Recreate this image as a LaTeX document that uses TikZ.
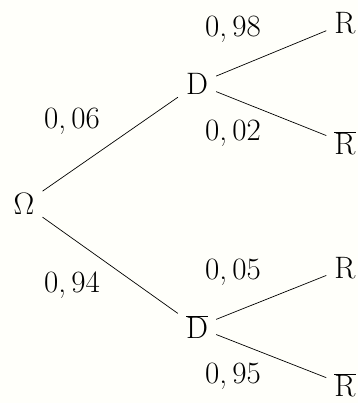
\documentclass[tikz,border=0pt]{standalone}
\begin{document}
\begin{tikzpicture}[x=1pt,y=-1pt,
  ev/.style={inner xsep=8pt,inner ysep=3pt,font=\fontsize{31}{34}\selectfont},
  pr/.style={font=\fontsize{31}{34}\selectfont},
  br/.style={line width=0.7pt}]
\useasboundingbox (0,0) rectangle (358,403);
\fill[white!97!yellow!60!white] (0,0) rectangle (358,403);
\node[ev] (O) at (24,204) {Ω};
\node[ev] (D) at (197,84) {D};
\node[ev] (Db) at (197,327) {$\overline{\hbox{D}}$};
\node[ev] (R1) at (345,23) {R};
\node[ev] (R2) at (345,143) {$\overline{\hbox{R}}$};
\node[ev] (R3) at (345,268) {R};
\node[ev] (R4) at (345,385) {$\overline{\hbox{R}}$};
\draw[br] (O) -- (D);
\draw[br] (O) -- (Db);
\draw[br] (D) -- (R1);
\draw[br] (D) -- (R2);
\draw[br] (Db) -- (R3);
\draw[br] (Db) -- (R4);
\node[pr] (p1) at (72,121) {0,\,06};
\node[pr] (p2) at (72,285) {0,\,94};
\node[pr] (p3) at (233,29) {0,\,98};
\node[pr] (p4) at (233,133) {0,\,02};
\node[pr] (p5) at (233,272) {0,\,05};
\node[pr] (p6) at (233,376) {0,\,95};
\end{tikzpicture}
\end{document}
